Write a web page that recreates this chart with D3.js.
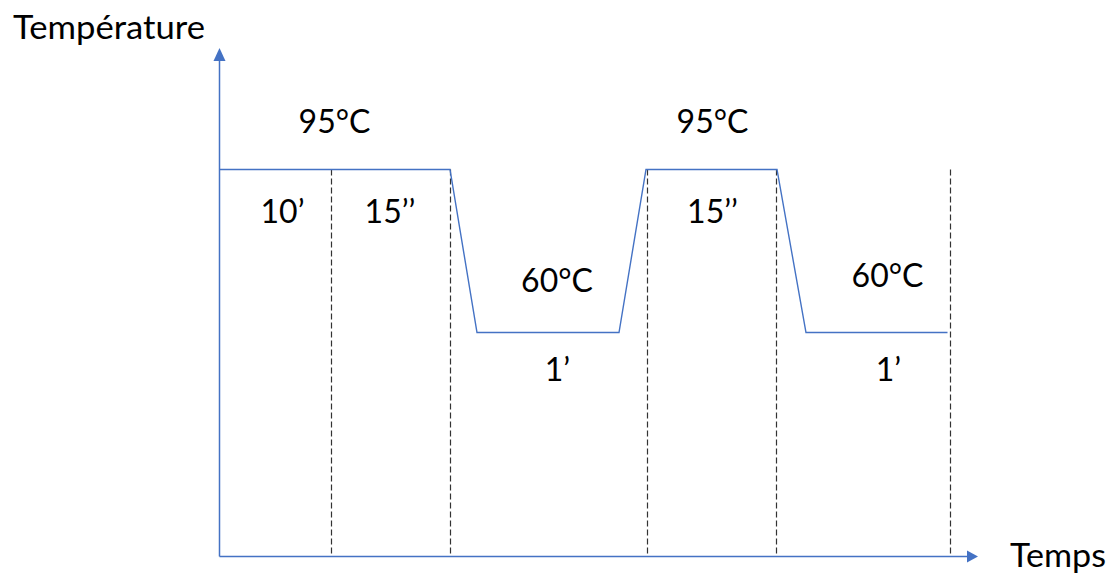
<!DOCTYPE html>
<html>
<head>
<meta charset="utf-8">
<script src="https://cdn.jsdelivr.net/npm/d3@7"></script>
<style>
  html, body { margin: 0; padding: 0; background: #fff; }
  svg { display: block; }
  text { font-family: "Lato", "Open Sans", sans-serif; fill: #000; }
</style>
</head>
<body>
<svg id="chart" width="1118" height="581"></svg>
<script>
// ---- data ----
const profileTime = [0, 231, 258, 400, 427, 558, 587, 728.5];
const profileTemp = [95, 95, 60, 60, 95, 95, 60, 60];
const dividerTime = [112, 231, 427.5, 556.5, 730.5];
const tempLabels = ["95°C", "60°C", "95°C", "60°C"];
const tempLabelTime = [115.5, 338, 493.5, 668.5];
const tempLabelTemp = [95, 60, 95, 60];
const durationLabels = ["10’", "15’’", "1’", "15’’", "1’"];
const durationLabelTime = [63.5, 171, 338.5, 493.5, 669.5];
const durationLabelTemp = [95, 95, 60, 95, 60];
const yTitle = "Température";
const xTitle = "Temps";

// ---- layout ----
const svg = d3.select("#chart");
const axisColor = "#4472C4";
const x = d3.scaleLinear().domain([0, 760]).range([219, 979]);
const y = d3.scaleLinear().domain([60, 95]).range([332.5, 169.5]);
const yBottom = 556, yTop = 48;
const xLeft = x(0), xRight = 978;

// dashed dividers
svg.append("g").selectAll("line").data(dividerTime).join("line")
  .attr("x1", d => Math.round(x(d)) + 0.5).attr("x2", d => Math.round(x(d)) + 0.5)
  .attr("y1", y(95)).attr("y2", yBottom)
  .attr("stroke", "#333").attr("stroke-width", 1.2)
  .attr("stroke-dasharray", "6,3");

// temperature profile
const pts = profileTime.map((t, i) => [t, profileTemp[i]]);
svg.append("path")
  .datum(pts)
  .attr("d", d3.line().x(d => x(d[0])).y(d => y(d[1])))
  .attr("fill", "none").attr("stroke", axisColor).attr("stroke-width", 1.4);

// axes (no ticks) using d3 axes
const yAxisScale = d3.scaleLinear().domain([y.invert(yBottom), y.invert(yTop + 11)]).range([yBottom, yTop + 11]);
svg.append("g").attr("transform", `translate(${xLeft},0)`)
  .call(d3.axisLeft(yAxisScale).tickValues([]).tickSizeOuter(0))
  .call(g => g.select(".domain").attr("stroke", axisColor).attr("stroke-width", 1.5));
const xAxisScale = d3.scaleLinear().domain([0, x.invert(xRight - 10)]).range([xLeft, xRight - 10]);
svg.append("g").attr("transform", `translate(0,${yBottom})`)
  .call(d3.axisBottom(xAxisScale).tickValues([]).tickSizeOuter(0))
  .call(g => g.select(".domain").attr("stroke", axisColor).attr("stroke-width", 1.5));

// arrowheads
svg.append("path")
  .attr("d", `M${xLeft + 0.5},${yTop} L${xLeft + 6.5},${yTop + 13} L${xLeft - 5.5},${yTop + 13} Z`)
  .attr("fill", axisColor);
svg.append("path")
  .attr("d", `M${xRight},${yBottom + 0.5} L${xRight - 11},${yBottom - 5.5} L${xRight - 11},${yBottom + 6.5} Z`)
  .attr("fill", axisColor);

// labels
const fs = 32;
svg.append("g").selectAll("text").data(tempLabels).join("text")
  .attr("x", (d, i) => x(tempLabelTime[i]))
  .attr("y", (d, i) => y(tempLabelTemp[i]) - (tempLabelTemp[i] === 95 ? 36.5 : (i === 1 ? 40.5 : 45.5)))
  .attr("text-anchor", "middle").attr("font-size", fs)
  .text(d => d);

svg.append("g").selectAll("text").data(durationLabels).join("text")
  .attr("x", (d, i) => x(durationLabelTime[i]))
  .attr("y", (d, i) => y(durationLabelTemp[i]) + (durationLabelTemp[i] === 95 ? 53 : 48.5))
  .attr("text-anchor", "middle").attr("font-size", fs)
  .text(d => d);

svg.append("text").attr("x", 13).attr("y", 39).attr("font-size", fs)
  .attr("textLength", 192).attr("lengthAdjust", "spacingAndGlyphs").text(yTitle);
svg.append("text").attr("x", 1010).attr("y", 567).attr("font-size", fs)
  .attr("textLength", 96).attr("lengthAdjust", "spacingAndGlyphs").text(xTitle);
</script>
</body>
</html>
